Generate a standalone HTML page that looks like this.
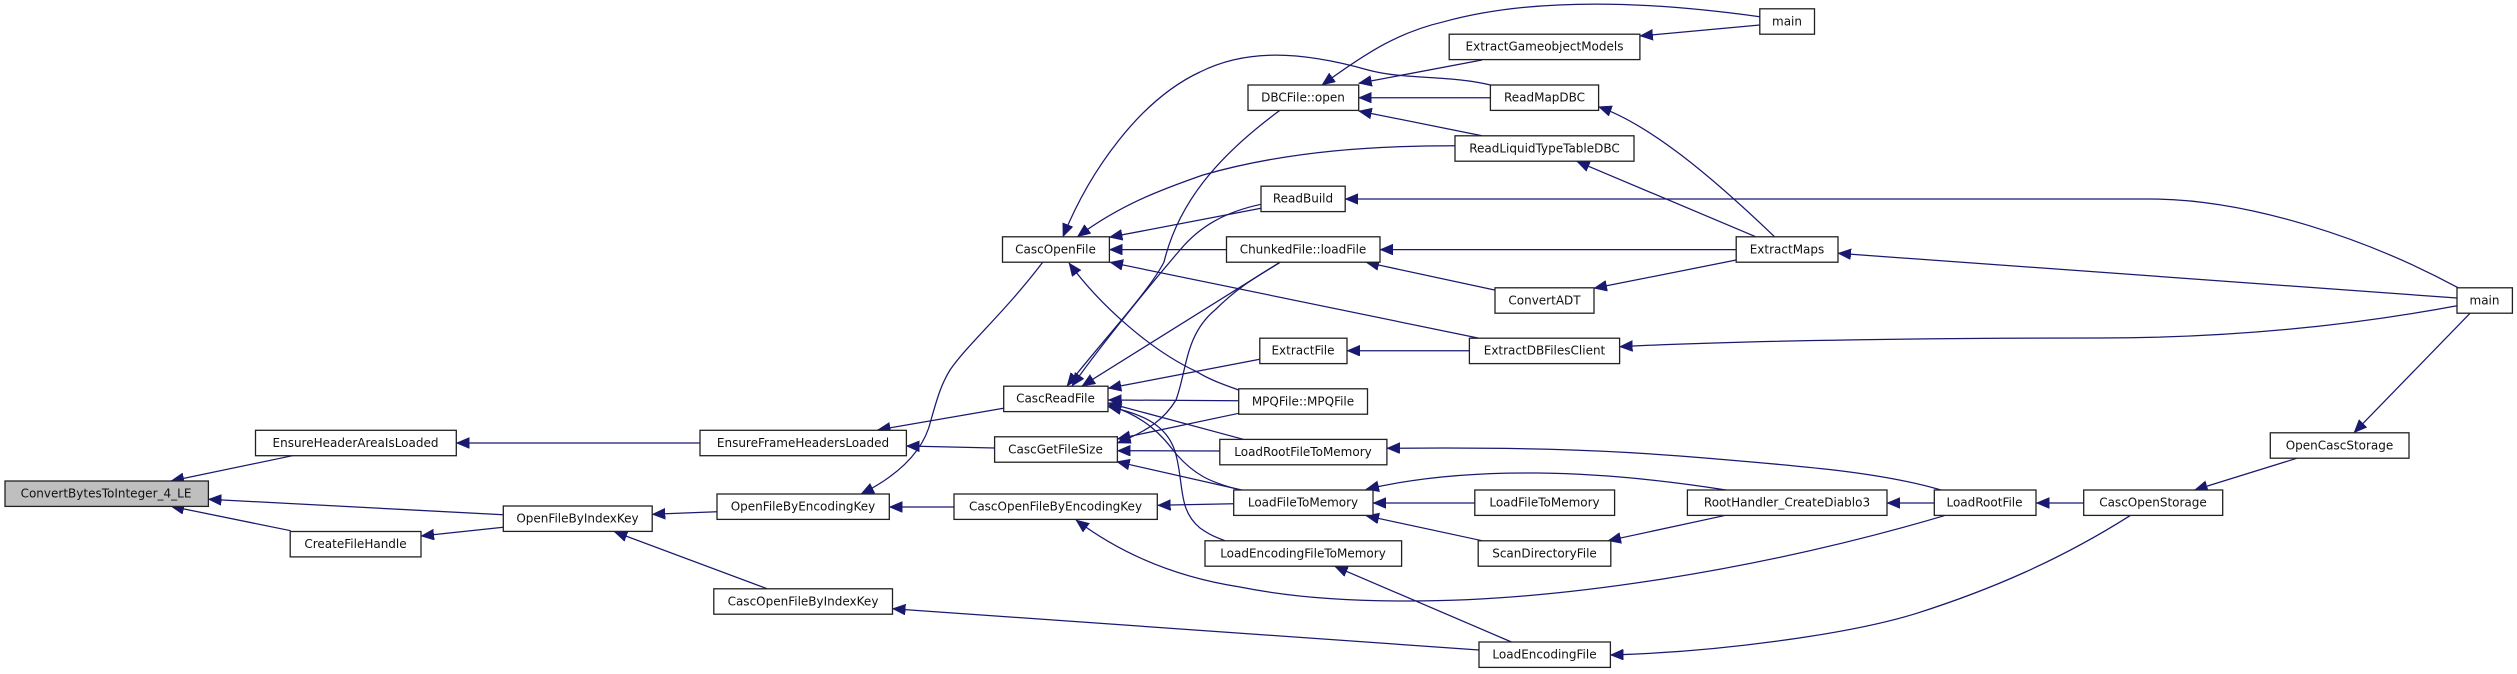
<!DOCTYPE html>
<html><head><meta charset="utf-8"><style>
html,body{margin:0;padding:0;background:#fff}
svg{display:block}
.n rect{fill:#fff;stroke:#222;stroke-width:1.3}
.n text{font-family:"DejaVu Sans",sans-serif;font-size:12px;fill:#111;text-anchor:middle}
.e path{fill:none;stroke:#191970;stroke-width:1.25;marker-start:url(#a)}
</style></head><body>
<svg width="2517" height="674" viewBox="0 0 2517 674" xmlns="http://www.w3.org/2000/svg">
<defs><marker id="a" markerUnits="userSpaceOnUse" markerWidth="15" markerHeight="12" refX="13" refY="5.5" orient="auto-start-reverse"><path d="M0 0L13 5.5L0 11z" style="fill:#191970;stroke:#191970;stroke-width:.5;marker:none"/></marker></defs>
<g class="e">
<path d="M171 481L292.6 455.7"/>
<path d="M208.4 499.3L503.3 514.7"/>
<path d="M171 506.3L290.6 530.7"/>
<path d="M421 536L503.3 527.3"/>
<path d="M456.3 443L700 443"/>
<path d="M877.5 430L1003.5 408.3"/>
<path d="M906.4 446L994.6 448"/>
<path d="M652.2 514.3L717 511.7"/>
<path d="M614.3 531.7L767 588.7"/>
<path d="M889.3 507L954 507"/>
<path d="M861 494C893 478 923 455 931 420C938 395 942 383 950 370C967 345 1005 312 1042.7 262.3"/>
<path d="M1157.7 505.3L1233.7 503.7"/>
<path d="M1076 520C1120 553 1175 577 1240 587C1300 599 1360 601 1410 601C1560 601 1760 570 1944.3 515.7"/>
<path d="M1063 236.7C1090 170 1140 100 1200 72C1240 52 1290 48 1368 70C1405 80 1450 75 1490.4 85"/>
<path d="M1077.4 236.7C1120 205 1160 190 1203 175C1290 150 1380 145.7 1455 145.7"/>
<path d="M1109.4 237.3L1261 208.3"/>
<path d="M1109.4 249.6L1226.5 249.6"/>
<path d="M1069 263C1100 305 1150 350 1196.7 371.7C1210 380 1225 385 1238.7 390"/>
<path d="M1110 262.3L1478 338"/>
<path d="M1067 386C1105 338 1150 290 1164 262C1178 205 1215 158 1280 110.3"/>
<path d="M1072 386C1105 340 1150 285 1180 250C1200 226 1225 212 1261 204.3"/>
<path d="M1082 386L1280 262.3"/>
<path d="M1117.4 443C1150 430 1165 418 1176 400C1187 370 1185 335 1215 310C1240 285 1260 275 1280 262.3"/>
<path d="M1117.4 439L1238.7 413.3"/>
<path d="M1117.4 450.7L1219.8 451"/>
<path d="M1116.7 461.7L1241.7 490"/>
<path d="M1108.3 388.3L1259.8 359.3"/>
<path d="M1108.3 400L1238.7 400.7"/>
<path d="M1108.3 403L1243.3 439.3"/>
<path d="M1108.3 405C1150 418 1165 440 1177 455C1195 475 1210 482 1236.7 489"/>
<path d="M1108.3 406.7C1150 415 1170 430 1176 455C1184 485 1178 510 1200 528C1210 535 1215 537 1225 540.7"/>
<path d="M1380 249.6L1736.2 249.6"/>
<path d="M1366 262.3L1494.6 290"/>
<path d="M1594 288.3L1736.2 260"/>
<path d="M1598.6 106.7C1650 125 1710 175 1774.5 236.7"/>
<path d="M1576.7 161.3L1755.6 236.7"/>
<path d="M1838 253.3L2457 298"/>
<path d="M1345.2 199L2150 199C2250 199 2370 240 2458 287.7"/>
<path d="M1619.6 346.7C1750 340 1950 338 2100 338C2250 338 2370 322 2457 305.7"/>
<path d="M2354 432.7L2470 313.3"/>
<path d="M2194.6 490L2296.7 458.3"/>
<path d="M2036.3 503L2083.7 503"/>
<path d="M1887 503L1934.3 503"/>
<path d="M1386.9 448.3C1500 447 1600 449 1705 458C1800 466 1880 472 1941 490"/>
<path d="M1366 489.3C1470 465 1600 470 1726 490"/>
<path d="M1373 503L1474.8 503"/>
<path d="M1366 515.7L1482 540.7"/>
<path d="M1608 540.7L1724 515.7"/>
<path d="M1334.7 566.3L1511.5 642"/>
<path d="M892.5 608.7L1479 650"/>
<path d="M1610.4 655C1720 652 1850 634 1916.7 613.3C1990 590 2060 560 2130 515.7"/>
<path d="M1639.9 36L1759.8 25"/>
<path d="M1322 85C1370 50 1400 32 1444 21.7C1530 -2 1640 0 1759.8 16.7"/>
<path d="M1358.7 83.3L1482 60"/>
<path d="M1358.7 97.7L1490.4 97.7"/>
<path d="M1358.7 111L1482 135.7"/>
<path d="M1347 350.7L1469.4 350.7"/>
</g>
<g class="n">
<rect x="5" y="481" width="203.4" height="25.4" style="fill:#bfbfbf"/><text x="106" y="497.5">ConvertBytesToInteger_4_LE</text>
<rect x="255.5" y="430.3" width="200.8" height="25.4"/><text x="355.5" y="446.8">EnsureHeaderAreaIsLoaded</text>
<rect x="290.2" y="531.5" width="130.8" height="25.4"/><text x="355.5" y="548">CreateFileHandle</text>
<rect x="503.3" y="506" width="148.9" height="25.4"/><text x="577.5" y="522.5">OpenFileByIndexKey</text>
<rect x="1002.5" y="236.8" width="106.9" height="25.4"/><text x="1055.5" y="253.3">CascOpenFile</text>
<rect x="1003.7" y="386.2" width="104.3" height="25.4"/><text x="1055.5" y="402.7">CascReadFile</text>
<rect x="700" y="430.3" width="206.4" height="25.4"/><text x="803" y="446.8">EnsureFrameHeadersLoaded</text>
<rect x="994.6" y="436.8" width="122.8" height="25.4"/><text x="1055.5" y="453.3">CascGetFileSize</text>
<rect x="717" y="494" width="172.3" height="25.4"/><text x="803" y="510.5">OpenFileByEncodingKey</text>
<rect x="954" y="494" width="203.3" height="25.4"/><text x="1055.5" y="510.5">CascOpenFileByEncodingKey</text>
<rect x="713.8" y="588.8" width="178.7" height="25.4"/><text x="803" y="605.3">CascOpenFileByIndexKey</text>
<rect x="1759.8" y="8.8" width="54.7" height="25.4"/><text x="1787" y="25.3">main</text>
<rect x="1449.2" y="34.2" width="190.7" height="25.4"/><text x="1544.5" y="50.7">ExtractGameobjectModels</text>
<rect x="1248" y="85" width="110.7" height="25.4"/><text x="1303" y="101.5">DBCFile::open</text>
<rect x="1490.4" y="85" width="108.2" height="25.4"/><text x="1544.5" y="101.5">ReadMapDBC</text>
<rect x="1455" y="135.8" width="179" height="25.4"/><text x="1544.5" y="152.3">ReadLiquidTypeTableDBC</text>
<rect x="1261" y="186.2" width="84.2" height="25.4"/><text x="1303" y="202.7">ReadBuild</text>
<rect x="1226.5" y="236.8" width="153.5" height="25.4"/><text x="1303" y="253.3">ChunkedFile::loadFile</text>
<rect x="1736.2" y="236.8" width="101.8" height="25.4"/><text x="1787" y="253.3">ExtractMaps</text>
<rect x="1495" y="287.8" width="99" height="25.4"/><text x="1544.5" y="304.3">ConvertADT</text>
<rect x="1259.8" y="338.2" width="87.2" height="25.4"/><text x="1303" y="354.7">ExtractFile</text>
<rect x="1469.4" y="338.2" width="150.2" height="25.4"/><text x="1544.5" y="354.7">ExtractDBFilesClient</text>
<rect x="1238.7" y="388.8" width="128.8" height="25.4"/><text x="1303" y="405.3">MPQFile::MPQFile</text>
<rect x="1219.8" y="439.4" width="167.1" height="25.4"/><text x="1303" y="455.9">LoadRootFileToMemory</text>
<rect x="1233.7" y="490" width="139.3" height="25.4"/><text x="1303" y="506.5">LoadFileToMemory</text>
<rect x="1474.8" y="490" width="139.8" height="25.4"/><text x="1544.5" y="506.5">LoadFileToMemory</text>
<rect x="1687.4" y="490" width="199.6" height="25.4"/><text x="1787" y="506.5">RootHandler_CreateDiablo3</text>
<rect x="1934.3" y="490" width="101.7" height="25.4"/><text x="1984.5" y="506.5">LoadRootFile</text>
<rect x="2083.7" y="490" width="139" height="25.4"/><text x="2153" y="506.5">CascOpenStorage</text>
<rect x="2270.3" y="432.8" width="138.7" height="25.4"/><text x="2339.5" y="449.3">OpenCascStorage</text>
<rect x="2457" y="287.8" width="55.4" height="25.4"/><text x="2484.5" y="304.3">main</text>
<rect x="1205" y="540.8" width="196.6" height="25.4"/><text x="1303" y="557.3">LoadEncodingFileToMemory</text>
<rect x="1478.2" y="540.8" width="132.6" height="25.4"/><text x="1544.5" y="557.3">ScanDirectoryFile</text>
<rect x="1479" y="642" width="131.4" height="25.4"/><text x="1544.5" y="658.5">LoadEncodingFile</text>
</g>
</svg>
</body></html>
